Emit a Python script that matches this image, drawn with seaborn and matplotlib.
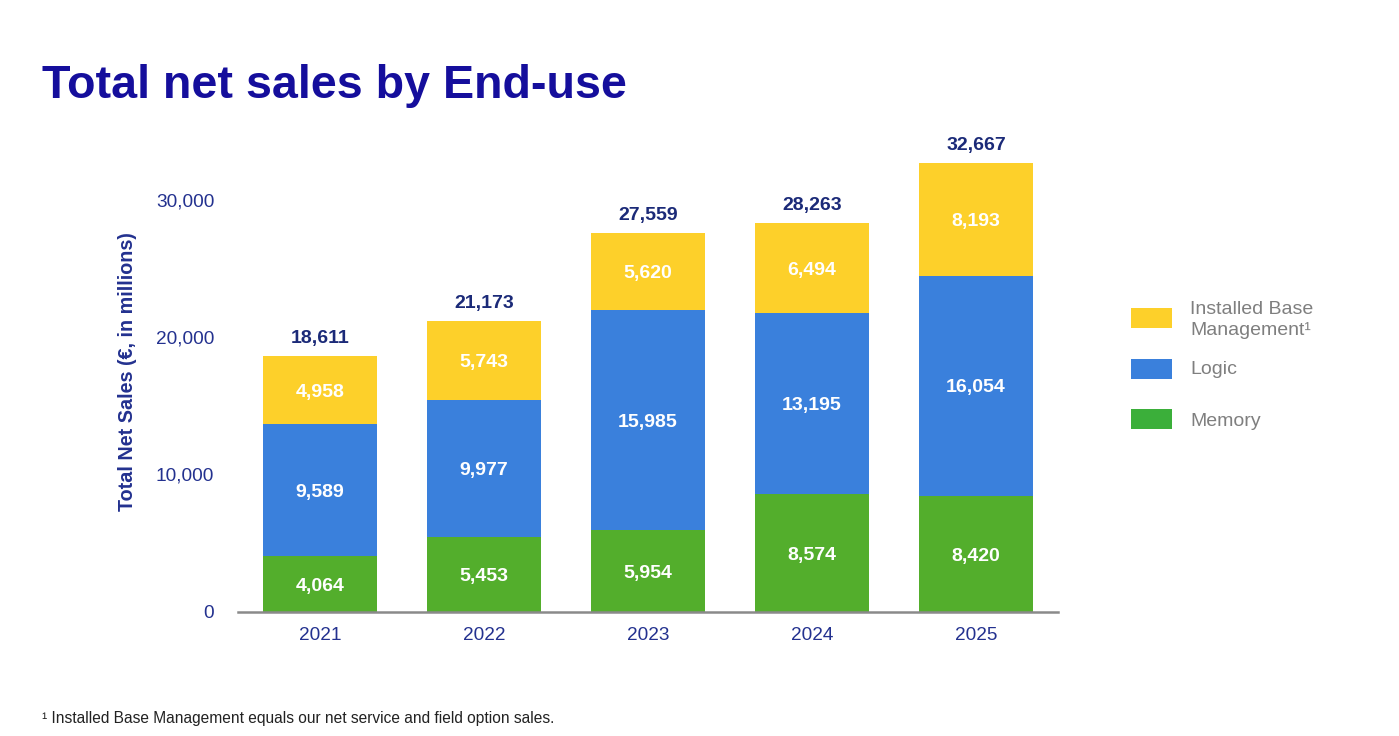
import pandas as pd
import matplotlib.pyplot as plt
import seaborn as sns
from matplotlib.patches import Rectangle

years = ['2021', '2022', '2023', '2024', '2025']
memory = [4064, 5453, 5954, 8574, 8420]
logic = [9589, 9977, 15985, 13195, 16054]
ibm = [4958, 5743, 5620, 6494, 8193]
totals = [18611, 21173, 27559, 28263, 32667]
series_names = ['Installed Base\nManagement\u00b9', 'Logic', 'Memory']

df = pd.DataFrame({'Year': years, 'Memory': memory, 'Logic': logic, 'IBM': ibm})
df['LogicBottom'] = df['Memory']
df['IBMBottom'] = df['Memory'] + df['Logic']

yellow = '#FDD02A'
blue = '#3A80DC'
green = '#53AE2C'
navy = '#23318F'

sns.set_style('white')
plt.rcParams['font.family'] = ['Liberation Sans', 'DejaVu Sans']

fig = plt.figure(figsize=(13.99, 7.36), dpi=100)
ax = fig.add_axes([0.1701, 0.1685, 0.5862, 0.6538])

sns.barplot(data=df, x='Year', y='Memory', color=green, width=0.7, saturation=1, linewidth=0, ax=ax)
sns.barplot(data=df, x='Year', y='Logic', bottom=df['LogicBottom'], color=blue, width=0.7,
            saturation=1, linewidth=0, ax=ax)
sns.barplot(data=df, x='Year', y='IBM', bottom=df['IBMBottom'], color=yellow, width=0.7,
            saturation=1, linewidth=0, ax=ax)

# values inside segments
for i in range(len(years)):
    segs = [(memory[i], 0), (logic[i], memory[i]), (ibm[i], memory[i] + logic[i])]
    for val, base in segs:
        ax.text(i, base + val / 2, f'{val:,}', ha='center', va='center_baseline', color='white',
                fontsize=14, fontweight='bold')
    ax.annotate(f'{totals[i]:,}', (i, totals[i]), xytext=(0, 14), textcoords='offset points',
                ha='center', va='center_baseline', color='#1B2A78', fontsize=14, fontweight='bold')

ax.set_xlim(-0.5, 4.5)
ax.set_ylim(0, 35000)
ax.set_yticks([0, 10000, 20000, 30000])
ax.yaxis.set_major_formatter(plt.FuncFormatter(lambda v, _: f'{int(v):,}'))
ax.tick_params(axis='y', length=0, pad=17, labelsize=13.7, labelcolor=navy)
ax.tick_params(axis='x', length=0, pad=11, labelsize=13.7, labelcolor=navy)
ax.set_xlabel('')
ax.set_ylabel('Total Net Sales (\u20ac, in millions)', fontsize=14.2, fontweight='bold', color=navy)
ax.yaxis.set_label_coords(-0.123, 0.5)

for s in ['top', 'right', 'left']:
    ax.spines[s].set_visible(False)
ax.spines['bottom'].set_color('#8A8A8A')
ax.spines['bottom'].set_linewidth(1.8)

# title
fig.text(0.030, 0.8668, 'Total net sales by End-use', fontsize=33.6, fontweight='bold',
         color='#150E9C', va='baseline', ha='left')

# legend
leg_colors = [yellow, blue, '#3BAF3A']
leg_y = [318, 369, 419]
text_y = [320, 370, 421]
for c, y, ty, name in zip(leg_colors, leg_y, text_y, series_names):
    fig.patches.append(Rectangle((1131 / 1399, 1 - (y + 10) / 736), 41 / 1399, 20 / 736,
                                 transform=fig.transFigure, facecolor=c, edgecolor='none'))
    fig.text(1190 / 1399, 1 - ty / 736, name, fontsize=14, color='#7F7F7F', va='center',
             ha='left', linespacing=1.35)

# footnote
fig.text(42 / 1399, 1 - 719 / 736, '\u00b9 Installed Base Management equals our net service and field option sales.',
         fontsize=11.2, color='#222222', va='center', ha='left')

plt.savefig('out.png', dpi=100)
